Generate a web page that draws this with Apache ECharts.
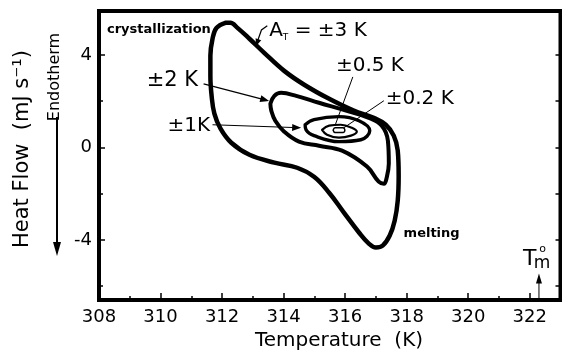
<!DOCTYPE html>
<html>
<head>
<meta charset="utf-8">
<script src="https://cdn.jsdelivr.net/npm/echarts@6/dist/echarts.min.js"></script>
<style>
  html, body { margin: 0; padding: 0; background: #fff; }
  #chart { width: 562px; height: 353px; }
</style>
</head>
<body>
<div id="chart"></div>
<script>
// Quasi-isothermal TMDSC: heat flow vs. sample temperature, one closed loop per modulation amplitude A_T.
// Each loop is a list of [temperature (K), heat flow (mJ/s)] points, closed by repeating the first point.
const loopA3 = [
  [312.11, 5.39], [311.82, 5.17], [311.69, 4.70], [311.62, 3.96], [311.62, 3.10],
  [311.66, 2.23], [311.75, 1.46], [311.95, 0.81], [312.30, 0.20], [312.89, -0.32],
  [313.70, -0.66], [314.44, -0.88], [314.99, -1.27], [315.48, -1.96], [315.96, -2.82],
  [316.45, -3.68], [316.77, -4.16], [317.00, -4.33], [317.22, -4.25], [317.45, -3.81],
  [317.61, -3.17], [317.71, -2.30], [317.74, -1.22], [317.71, -0.14], [317.58, 0.51],
  [317.32, 0.98], [316.93, 1.28], [316.28, 1.59], [315.48, 2.10], [314.67, 2.71],
  [314.02, 3.31], [313.37, 4.09], [312.89, 4.70], [312.50, 5.17], [312.27, 5.39],
  [312.11, 5.39]
];
const loopA2 = [
  [313.57, 1.89], [313.70, 2.23], [313.92, 2.36], [314.41, 2.23], [315.15, 1.93],
  [316.03, 1.59], [316.77, 1.28], [317.19, 0.94], [317.39, 0.29], [317.42, -0.70],
  [317.35, -1.31], [317.26, -1.57], [317.09, -1.48], [316.71, -0.83], [315.90, -0.14],
  [315.15, 0.07], [314.50, 0.25], [314.02, 0.68], [313.73, 1.15], [313.60, 1.59],
  [313.57, 1.89]
];
const loopA1 = [
  [314.70, 0.98], [314.99, 1.20], [315.80, 1.33], [316.45, 1.15], [316.80, 0.72],
  [316.51, 0.33], [315.80, 0.25], [314.99, 0.51], [314.73, 0.76], [314.70, 0.98]
];
const loopA05 = [
  [315.25, 0.76], [315.48, 0.94], [315.86, 0.98], [316.22, 0.85], [316.38, 0.68],
  [316.19, 0.51], [315.80, 0.42], [315.41, 0.55], [315.25, 0.76]
];
const loopA02 = [
  [315.61, 0.74], [315.67, 0.85], [315.93, 0.85], [315.99, 0.74], [315.93, 0.64],
  [315.67, 0.64], [315.61, 0.74]
];

// Axis ranges and tick positions
const tempRange = [308, 323];
const heatRange = [-6.6, 5.9];
const tempLabels = [308, 310, 312, 314, 316, 318, 320, 322];
const tempMinorTicks = [309, 311, 313, 315, 317, 319, 321];
const heatLabels = [-4, 0, 4];
const heatMinorTicks = [-6, -2, 2];
const heatRightTicks = [-6, -4, -2, 0, 2, 4];
const meltingPointT = 322.3;

const FONT = '"DejaVu Sans", "Liberation Sans", Arial, sans-serif';
const INK = '#000';

const chart = echarts.init(document.getElementById('chart'), null, { renderer: 'canvas' });

function loopSeries(data, width) {
  return {
    type: 'line', data: data, xAxisIndex: 0, yAxisIndex: 0,
    showSymbol: false, symbol: 'none', smooth: 0.4,
    lineStyle: { color: INK, width: width, cap: 'round', join: 'round' },
    silent: true, z: 3
  };
}

function xAxisBase(extra) {
  return Object.assign({
    type: 'value', min: tempRange[0], max: tempRange[1], position: 'bottom',
    axisLine: { show: false, onZero: false }, splitLine: { show: false }
  }, extra);
}
function yAxisBase(extra) {
  return Object.assign({
    type: 'value', min: heatRange[0], max: heatRange[1],
    axisLine: { show: false, onZero: false }, splitLine: { show: false }
  }, extra);
}

chart.setOption({
  animation: false,
  backgroundColor: '#fff',
  grid: {
    left: 99, right: 1.5, top: 11, bottom: 53,
    show: true, borderColor: INK, borderWidth: 4, backgroundColor: 'transparent'
  },
  xAxis: [
    xAxisBase({
      axisTick: { inside: true, length: 7, customValues: tempLabels, lineStyle: { color: INK, width: 1.5 } },
      axisLabel: { customValues: tempLabels, color: INK, fontFamily: FONT, fontSize: 18, margin: 8 }
    }),
    xAxisBase({
      axisTick: { inside: true, length: 4, customValues: tempMinorTicks, lineStyle: { color: INK, width: 1.5 } },
      axisLabel: { show: false }
    })
  ],
  yAxis: [
    yAxisBase({
      position: 'left',
      axisTick: { inside: true, length: 6, customValues: heatLabels, lineStyle: { color: INK, width: 1.5 } },
      axisLabel: { customValues: heatLabels, color: INK, fontFamily: FONT, fontSize: 18, margin: 7 }
    }),
    yAxisBase({
      position: 'left',
      axisTick: { inside: true, length: 4, customValues: heatMinorTicks, lineStyle: { color: INK, width: 1.5 } },
      axisLabel: { show: false }
    }),
    yAxisBase({
      position: 'right',
      axisTick: { inside: true, length: 5, customValues: heatRightTicks, lineStyle: { color: INK, width: 1.5 } },
      axisLabel: { show: false }
    })
  ],
  series: [
    loopSeries(loopA3, 4.5),
    loopSeries(loopA2, 4),
    loopSeries(loopA1, 3.4),
    loopSeries(loopA05, 2.2),
    loopSeries(loopA02, 1.5)
  ]
});

// Annotations placed in data coordinates
const toPx = (pt) => chart.convertToPixel({ xAxisIndex: 0, yAxisIndex: 0 }, pt);

function label(text, at, size, opts) {
  const p = toPx(at);
  return {
    type: 'text', x: p[0], y: p[1], silent: true, z: 10,
    style: Object.assign({
      text: text, fill: INK, align: 'left', verticalAlign: 'middle',
      font: (opts && opts.weight ? opts.weight + ' ' : '') + size + 'px ' + FONT
    }, opts && opts.style)
  };
}
function leader(points, width) {
  return {
    type: 'polyline', silent: true, z: 10,
    shape: { points: points.map(toPx) },
    style: { stroke: INK, lineWidth: width, fill: null }
  };
}
function arrowHead(fromPt, tipPt, len, halfW) {
  const a = toPx(fromPt), b = toPx(tipPt);
  const dx = b[0] - a[0], dy = b[1] - a[1];
  const d = Math.hypot(dx, dy) || 1;
  const ux = dx / d, uy = dy / d;
  const bx = b[0] - ux * len, by = b[1] - uy * len;
  return {
    type: 'polygon', silent: true, z: 11,
    shape: { points: [[b[0], b[1]], [bx - uy * halfW, by + ux * halfW], [bx + uy * halfW, by - ux * halfW]] },
    style: { fill: INK, stroke: null }
  };
}

const tmBase = toPx([meltingPointT, heatRange[0]]);
const tmTip = toPx([meltingPointT, -5.45]);

chart.setOption({
  graphic: [
    // axis titles
    { type: 'text', x: 339, y: 341, silent: true,
      style: { text: 'Temperature  (K)', fill: INK, align: 'center', verticalAlign: 'middle', font: '20px ' + FONT } },
    { type: 'text', x: 23, y: 149, rotation: Math.PI / 2, silent: true,
      style: { text: 'Heat Flow  (mJ s\u207B\u00B9)', fill: INK, align: 'center', verticalAlign: 'middle', font: '21px ' + FONT } },
    { type: 'text', x: 55, y: 77, rotation: Math.PI / 2, silent: true,
      style: { text: 'Endotherm', fill: INK, align: 'center', verticalAlign: 'middle', font: '16px ' + FONT } },
    // endotherm direction arrow
    { type: 'line', silent: true, shape: { x1: 57, y1: 117, x2: 57, y2: 246 }, style: { stroke: INK, lineWidth: 2 } },
    { type: 'polygon', silent: true, shape: { points: [[57, 256], [53, 242], [61, 242]] }, style: { fill: INK } },

    // process labels
    label('crystallization', [308.26, 5.08], 13, { weight: 'bold' }),
    label('melting', [317.90, -3.73], 13, { weight: 'bold' }),

    // amplitude labels
    {
      type: 'text', silent: true, z: 10,
      x: toPx([313.53, 5.04])[0], y: toPx([313.53, 5.04])[1],
      style: {
        text: '{a|A}{s|T}{a| = \u00B13 K}', align: 'left', verticalAlign: 'middle',
        rich: {
          a: { fontSize: 20, fontFamily: FONT, fill: INK, lineHeight: 22 },
          s: { fontSize: 9, fontFamily: FONT, fill: INK, verticalAlign: 'bottom', lineHeight: 22, padding: [0, 0, 0, 0] }
        }
      }
    },
    label('\u00B12 K', [309.55, 2.88], 21),
    label('\u00B11K', [310.23, 0.94], 20),
    label('\u00B10.5 K', [315.70, 3.53], 20),
    label('\u00B10.2 K', [317.32, 2.10], 20),

    // leaders and arrows
    leader([[313.47, 5.26], [313.28, 5.08], [313.14, 4.55]], 1.2),
    arrowHead([313.28, 5.08], [313.11, 4.39], 7, 3),
    leader([[311.40, 2.75], [313.30, 2.09]], 1.2),
    arrowHead([311.40, 2.75], [313.53, 2.01], 9, 3.5),
    leader([[311.69, 0.98], [314.30, 0.86]], 1.2),
    arrowHead([311.69, 0.98], [314.57, 0.85], 9, 3.5),
    leader([[316.25, 3.05], [315.67, 0.94]], 1),
    leader([[317.26, 2.02], [315.96, 0.85]], 1),

    // equilibrium melting temperature marker
    { type: 'line', silent: true, shape: { x1: tmBase[0], y1: tmBase[1], x2: tmTip[0], y2: tmTip[1] + 8 },
      style: { stroke: INK, lineWidth: 1 } },
    { type: 'polygon', silent: true,
      shape: { points: [[tmTip[0], tmTip[1]], [tmTip[0] - 3, tmTip[1] + 10], [tmTip[0] + 3, tmTip[1] + 10]] },
      style: { fill: INK } },
    label('T', [321.78, -4.83], 22),
    { type: 'text', silent: true, x: toPx([322.40, -5.02])[0], y: toPx([322.40, -5.02])[1],
      style: { text: 'm', fill: INK, align: 'center', verticalAlign: 'middle', font: '17px ' + FONT } },
    { type: 'text', silent: true, x: toPx([322.42, -4.42])[0], y: toPx([322.42, -4.42])[1],
      style: { text: 'o', fill: INK, align: 'center', verticalAlign: 'middle', font: '11px ' + FONT } }
  ]
});
</script>
</body>
</html>
